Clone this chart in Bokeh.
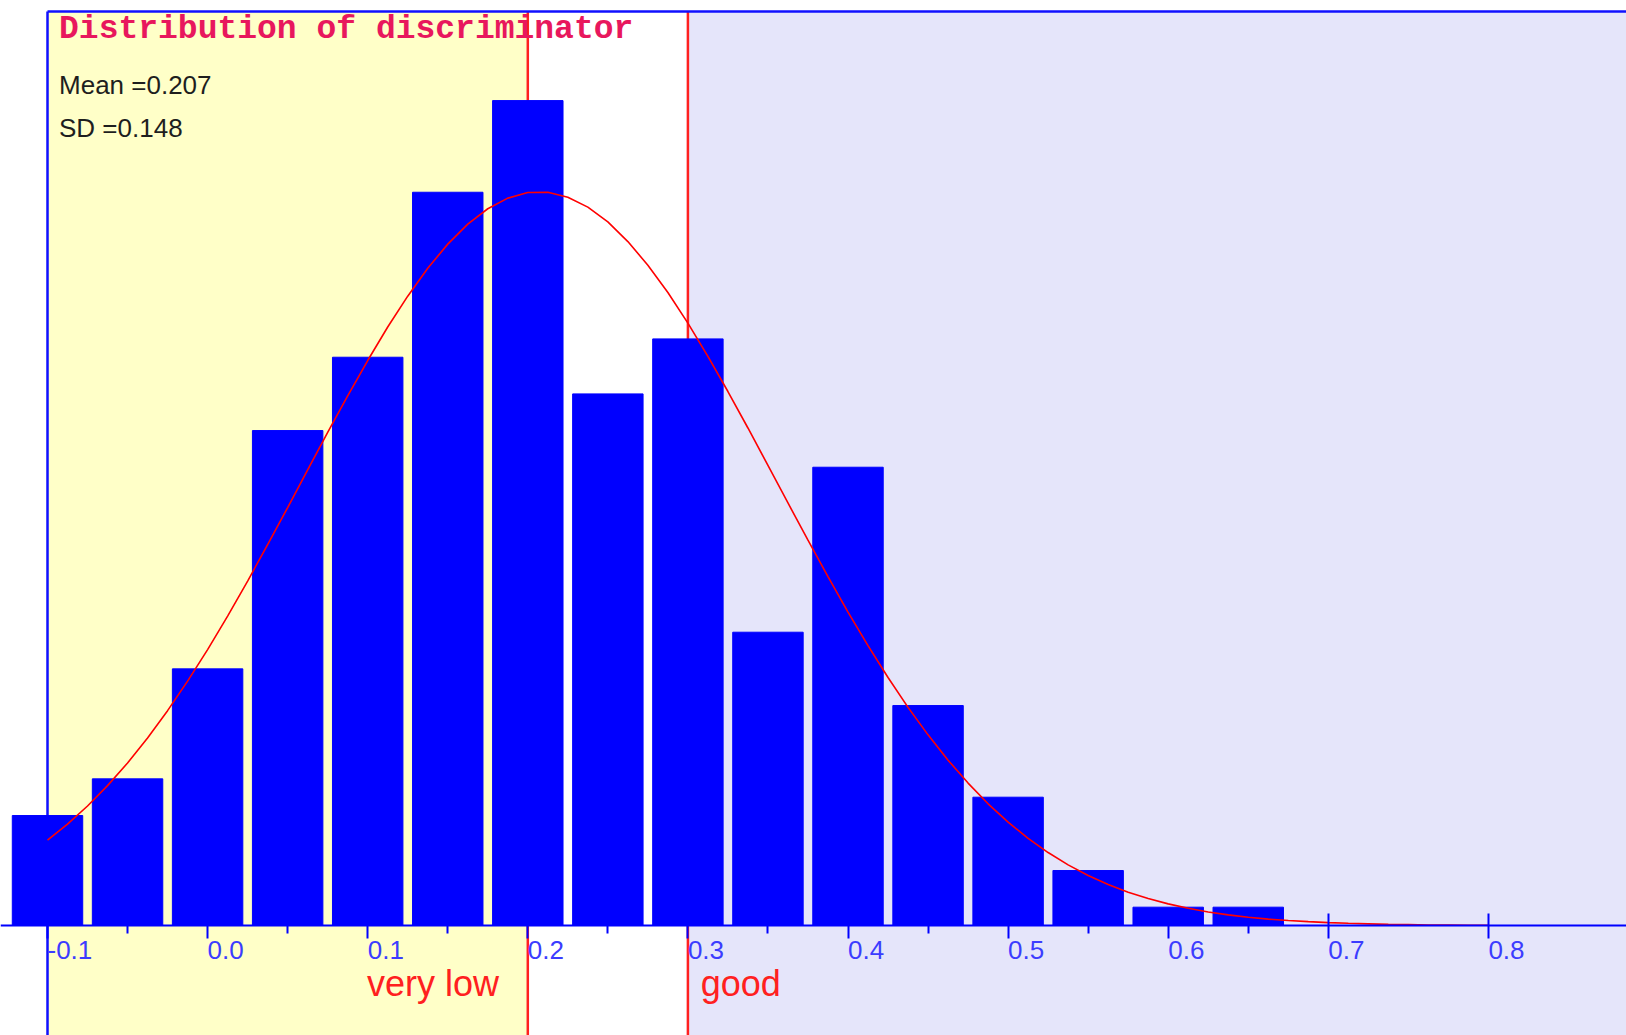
from bokeh.plotting import figure
from bokeh.models import Range1d, LinearAxis, FixedTicker
from bokeh.core.properties import value
from bokeh.embed import file_html
from bokeh.resources import INLINE

# ---------------- data ----------------
bin_centers = [-0.10, -0.05, 0.00, 0.05, 0.10, 0.15, 0.20, 0.25,
               0.30, 0.35, 0.40, 0.45, 0.50, 0.55, 0.60, 0.65]
counts = [6, 8, 14, 27, 31, 40, 45, 29, 32, 16, 25, 12, 7, 3, 1, 1]

# fitted normal curve (in count units)
curve_x = [-0.1000, -0.0875, -0.0750, -0.0625, -0.0500, -0.0375, -0.0250, -0.0125,
           0.0000, 0.0125, 0.0250, 0.0375, 0.0500, 0.0625, 0.0750, 0.0875,
           0.1000, 0.1125, 0.1250, 0.1375, 0.1500, 0.1625, 0.1750, 0.1875,
           0.2000, 0.2125, 0.2250, 0.2375, 0.2500, 0.2625, 0.2750, 0.2875,
           0.3000, 0.3125, 0.3250, 0.3375, 0.3500, 0.3625, 0.3750, 0.3875,
           0.4000, 0.4125, 0.4250, 0.4375, 0.4500, 0.4625, 0.4750, 0.4875,
           0.5000, 0.5125, 0.5250, 0.5375, 0.5500, 0.5625, 0.5750, 0.5875,
           0.6000, 0.6125, 0.6250, 0.6375, 0.6500, 0.6625, 0.6750, 0.6875,
           0.7000, 0.7125, 0.7250, 0.7375, 0.7500, 0.7625, 0.7750, 0.7875,
           0.8000]
curve_y = [4.66, 5.53, 6.52, 7.63, 8.86, 10.23, 11.72, 13.33,
           15.05, 16.88, 18.79, 20.78, 22.80, 24.85, 26.90, 28.89,
           30.82, 32.65, 34.33, 35.85, 37.17, 38.26, 39.10, 39.68,
           39.99, 40.00, 39.73, 39.19, 38.38, 37.31, 36.02, 34.53,
           32.86, 31.05, 29.13, 27.14, 25.10, 23.05, 21.02, 19.03,
           17.10, 15.27, 13.53, 11.90, 10.40, 9.02, 7.77, 6.64,
           5.64, 4.75, 3.98, 3.31, 2.73, 2.24, 1.82, 1.47,
           1.18, 0.94, 0.74, 0.58, 0.45, 0.35, 0.27, 0.21,
           0.16, 0.12, 0.09, 0.06, 0.05, 0.03, 0.025, 0.015,
           0.013]

mean_val = 0.207
sd_val = 0.148
cut_very_low = 0.2
cut_good = 0.3
axis_start = -0.1

tick_values = [-0.1, 0.0, 0.1, 0.2, 0.3, 0.4, 0.5, 0.6, 0.7, 0.8]
tick_labels = ["-0.1", "0.0", "0.1", "0.2", "0.3", "0.4", "0.5", "0.6", "0.7", "0.8"]
minor_values = [-0.05, 0.05, 0.15, 0.25, 0.35, 0.45, 0.55, 0.65]

title_text = "Distribution of discriminator"
zone_labels = ["very low", "good"]

# ---------------- layout ----------------
X0, X1 = -0.12936, 0.88626
Y0, Y1 = -6.00, 50.46
Y_TOP = 49.86

BLUE = "#0000FF"
RED = "#FF2020"

p = figure(width=1626, height=1035, x_range=Range1d(X0, X1), y_range=Range1d(Y0, Y1),
           output_backend="svg", toolbar_location=None, min_border=0,
           x_axis_type=None, y_axis_type=None)
p.outline_line_color = None
p.background_fill_color = "white"
p.border_fill_color = "white"

# zone backgrounds
p.quad(left=[axis_start, cut_good], right=[cut_very_low, X1],
       bottom=[Y0, Y0], top=[Y_TOP, Y_TOP],
       fill_color=["#FFFFC8", "#E5E5FA"], line_color=None)

# threshold lines
p.segment(x0=[cut_very_low, cut_good], y0=[Y0, Y0],
          x1=[cut_very_low, cut_good], y1=[Y_TOP, Y_TOP],
          line_color=RED, line_width=2.5)

# frame lines (left and top)
p.segment(x0=[axis_start, axis_start], y0=[Y0, Y_TOP],
          x1=[axis_start, X1], y1=[Y_TOP, Y_TOP],
          line_color="#1010FF", line_width=2.5)

# histogram bars
p.vbar(x=bin_centers, top=counts, bottom=0, width=0.0440,
       fill_color=BLUE, line_color=BLUE, line_width=1)

# x axis inside the plot at count 0
xaxis = LinearAxis(fixed_location=0,
                   ticker=FixedTicker(ticks=tick_values, minor_ticks=minor_values),
                   axis_line_color=BLUE, axis_line_width=2,
                   major_tick_line_color=BLUE, major_tick_line_width=2,
                   major_tick_in=12, major_tick_out=13,
                   minor_tick_line_color=BLUE, minor_tick_line_width=2,
                   minor_tick_in=0, minor_tick_out=8,
                   major_label_overrides={t: "" for t in tick_values},
                   major_label_text_font_size="1px")
p.add_layout(xaxis, "below")

# fitted normal curve
p.line(curve_x, curve_y, line_color="#FF0000", line_width=1.6)

# tick labels, left aligned at the ticks
p.text(x=tick_values, y=[-1.80] * len(tick_values), text=tick_labels,
       text_font=value("Liberation Sans"), text_font_size="26px",
       text_color="#3C3CFF", text_align="left", text_baseline="alphabetic",
       y_offset=-9)

# title and statistics
p.text(x=[-0.0928], y=[48.28], text=[title_text],
       text_font=value("Liberation Mono"), text_font_style="bold",
       text_font_size="33px", text_color="#E8175D",
       text_align="left", text_baseline="alphabetic", y_offset=-11)
p.text(x=[-0.0928, -0.0928], y=[45.28, 42.97],
       text=[f"Mean ={mean_val}", f"SD ={sd_val}"],
       text_font=value("Liberation Sans"), text_font_size="26px",
       text_color="#1E1E1E", text_align="left", text_baseline="alphabetic",
       y_offset=-10)

# zone labels
p.text(x=[0.1820], y=[-3.82], text=[zone_labels[0]],
       text_font=value("Liberation Sans"), text_font_size="36px",
       text_color=RED, text_align="right", text_baseline="alphabetic",
       y_offset=-12)
p.text(x=[0.3080], y=[-3.82], text=[zone_labels[1]],
       text_font=value("Liberation Sans"), text_font_size="36px",
       text_color=RED, text_align="left", text_baseline="alphabetic",
       y_offset=-12)

open("out.html", "w").write(file_html(p, INLINE))
